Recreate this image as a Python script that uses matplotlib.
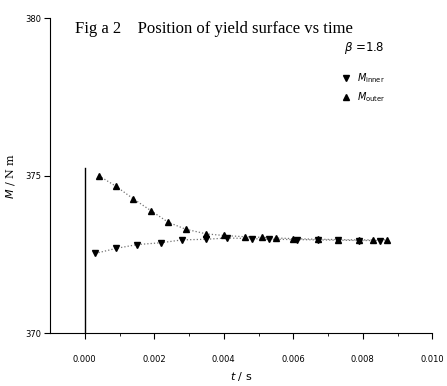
import numpy as np
import matplotlib.pyplot as plt

# data (t in s, M in N m)
t_outer = [0.0004, 0.0009, 0.0014, 0.0019, 0.0024, 0.0029, 0.0035, 0.0040, 0.0046,
           0.0051, 0.0055, 0.0060, 0.0067, 0.0073, 0.0079, 0.0083, 0.0087]
m_outer = [375.00, 374.66, 374.26, 373.89, 373.52, 373.30, 373.15, 373.10, 373.06,
           373.04, 373.02, 373.00, 372.98, 372.97, 372.96, 372.96, 372.96]
t_inner = [0.0003, 0.0009, 0.0015, 0.0022, 0.0028, 0.0035, 0.0041, 0.0048, 0.0053,
           0.0061, 0.0067, 0.0073, 0.0079, 0.0085]
m_inner = [372.53, 372.69, 372.81, 372.87, 372.96, 372.98, 373.02, 373.00, 372.98,
           372.97, 372.96, 372.95, 372.94, 372.94]
t_jump = [0.0, 0.0]
m_jump = [370.0, 375.25]

xticks = [0.000, 0.002, 0.004, 0.006, 0.008, 0.010]
xticklabels = ['0.000', '0.002', '0.004', '0.006', '0.008', '0.010']
yticks = [370, 375, 380]

fig = plt.figure(figsize=(4.47, 3.86), dpi=100)
ax = fig.add_axes([0.112, 0.137, 0.855, 0.816])

ax.plot(t_jump, m_jump, color='black', lw=1.0)
ax.plot(t_outer, m_outer, color='0.45', linestyle=':', lw=0.9)
ax.plot(t_inner, m_inner, color='0.45', linestyle=':', lw=0.9)
ax.plot(t_inner, m_inner, linestyle='none', marker='v', ms=4, color='black',
        label=r'$M_{\rm inner}$')
ax.plot(t_outer, m_outer, linestyle='none', marker='^', ms=4, color='black',
        label=r'$M_{\rm outer}$')

ax.set_xlim(-0.001, 0.010)
ax.set_ylim(370, 380)
ax.set_xticks(xticks)
ax.set_xticklabels(xticklabels, fontsize=6)
ax.set_xticks(np.arange(0, 0.0101, 0.001), minor=True)
ax.set_yticks(yticks)
ax.set_yticklabels([str(v) for v in yticks], fontsize=6)
ax.tick_params(axis='x', which='major', length=4, pad=12)
ax.tick_params(axis='x', which='minor', length=2)
ax.tick_params(axis='y', length=4, pad=2)

ax.spines['top'].set_visible(False)
ax.spines['right'].set_visible(False)

ax.set_xlabel(r'$t$ / s', fontsize=8, labelpad=4)
ax.set_ylabel(r'$M$ / N m', fontsize=8, family='serif', labelpad=6)

ax.text(0.065, 0.99, 'Fig a 2    Position of yield surface vs time', transform=ax.transAxes,
        fontsize=12, family='Liberation Serif', va='top', ha='left')
ax.text(0.77, 0.905, r'$\beta$ =1.8', transform=ax.transAxes, fontsize=8.5,
        va='center', ha='left')

ax.legend(loc='upper left', bbox_to_anchor=(0.74, 0.86), frameon=False,
          fontsize=7, handlelength=1.0, handletextpad=0.6, labelspacing=0.6)

fig.savefig('out.png', dpi=100)
